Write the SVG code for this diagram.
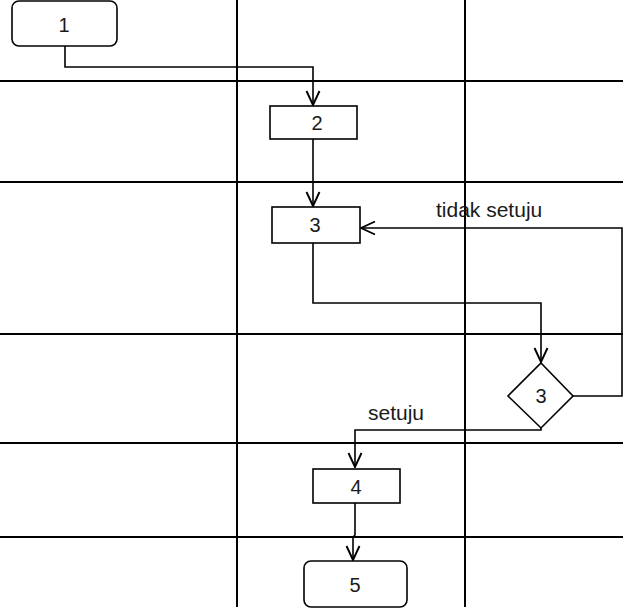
<svg xmlns="http://www.w3.org/2000/svg" width="623" height="609" viewBox="0 0 623 609">
<style>
.grid{stroke:#000;stroke-width:2;fill:none}
.node{fill:#fff;stroke:#000;stroke-width:1.6}
.conn{fill:none;stroke:#000;stroke-width:1.6}
text{font-family:"Liberation Sans",Arial,sans-serif;font-size:20px;fill:#1a1a1a}
.c{text-anchor:middle;dominant-baseline:central}
.lbl{font-size:21px}
</style>
<defs>
<marker id="ah" viewBox="0 0 16 16" refX="15" refY="8" markerWidth="16" markerHeight="16" markerUnits="userSpaceOnUse" orient="auto">
<path d="M1 1.5 L15 8 L1 14.5" fill="none" stroke="#000" stroke-width="1.9"/>
</marker>
</defs>
<rect width="623" height="609" fill="#fff"/>
<g id="grid" class="grid">
<line x1="237" y1="0" x2="237" y2="607"/>
<line x1="465" y1="0" x2="465" y2="607"/>
<line x1="0" y1="81" x2="623" y2="81"/>
<line x1="0" y1="182" x2="623" y2="182"/>
<line x1="0" y1="334" x2="623" y2="334"/>
<line x1="0" y1="443" x2="623" y2="443"/>
<line x1="0" y1="537" x2="623" y2="537"/>
</g>
<g id="connectors" class="conn">
<path d="M65 46 V67 H313 V105" marker-end="url(#ah)"/>
<path d="M313 139 V206" marker-end="url(#ah)"/>
<path d="M313 243 V303 H541 V362" marker-end="url(#ah)"/>
<path d="M573 396 H622 V228 H361" marker-end="url(#ah)"/>
<path d="M541 427 V430 H355 V467" marker-end="url(#ah)"/>
<path d="M355 503 V535 L353 537 V560" marker-end="url(#ah)"/>
</g>
<g id="node1"><rect class="node" x="12" y="1" width="105" height="45" rx="7"/><text class="c" x="64" y="25">1</text></g>
<g id="node2"><rect class="node" x="270" y="106" width="87" height="33"/><text class="c" x="317" y="123">2</text></g>
<g id="node3"><rect class="node" x="272" y="207" width="88" height="36"/><text class="c" x="315" y="225">3</text></g>
<g id="node3d"><polygon class="node" points="541,363 573,396 541,428 508,396"/><text class="c" x="541" y="396">3</text></g>
<g id="node4"><rect class="node" x="313" y="469" width="87" height="34"/><text class="c" x="356" y="487">4</text></g>
<g id="node5"><rect class="node" x="304" y="561" width="103" height="46" rx="7"/><text class="c" x="355" y="585">5</text></g>
<g id="labels">
<text class="lbl" x="436" y="217">tidak setuju</text>
<text class="lbl" x="368" y="420">setuju</text>
</g>
</svg>
